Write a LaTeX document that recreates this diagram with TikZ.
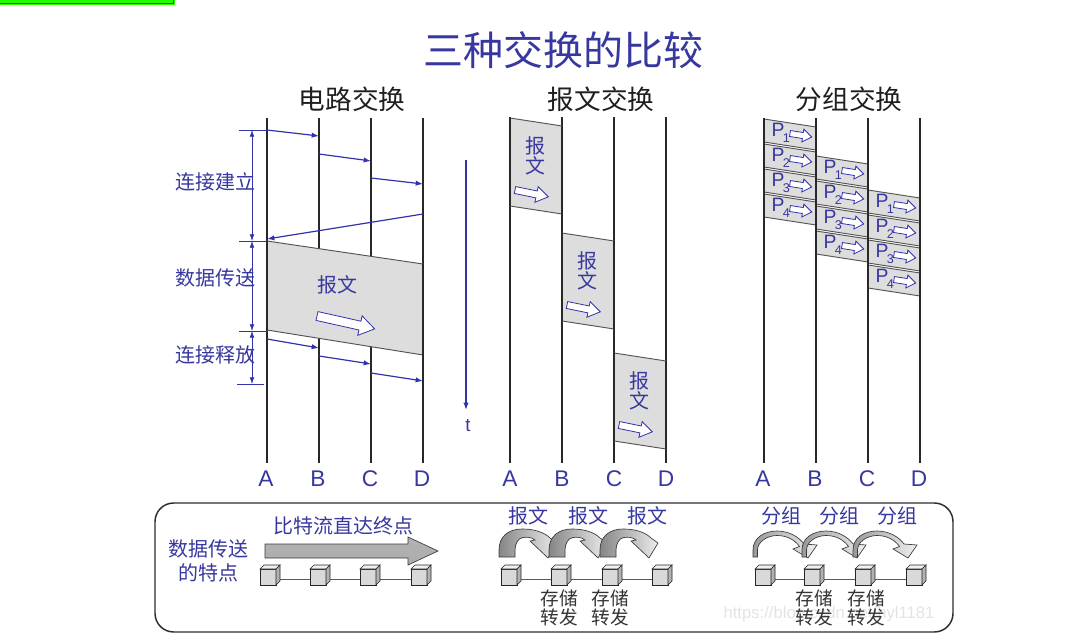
\documentclass[tikz,border=0pt]{standalone}
\usepackage{fontspec}
\setmainfont{Liberation Sans}
\newfontfamily\cjk{Noto Sans CJK SC}
\usetikzlibrary{arrows.meta,calc}
\definecolor{tblue}{RGB}{55,55,160}
\definecolor{lblue}{RGB}{50,50,170}
\definecolor{bandgray}{RGB}{221,221,221}
\definecolor{linegray}{RGB}{40,40,40}
\definecolor{brightgreen}{RGB}{40,255,0}
\definecolor{darkgreen}{RGB}{20,120,0}

\newcommand{\blockarrow}[7]{%
 \begin{scope}[shift={(#1,#2)},rotate=#3]
 \draw[barrow] (0,-#5)--(#4-#7,-#5)--(#4-#7,-#6)--(#4,0)--(#4-#7,#6)--(#4-#7,#5)--(0,#5)--cycle;
 \end{scope}}
\newcommand{\cube}[1]{%
 \filldraw[cubeline,fill=gray!30] (#1-8,569) rectangle (#1+8,585);
 \filldraw[cubeline,fill=gray!12] (#1-8,569)--(#1-4,565)--(#1+12,565)--(#1+8,569)--cycle;
 \filldraw[cubeline,fill=gray!60] (#1+8,569)--(#1+12,565)--(#1+12,581)--(#1+8,585)--cycle;}
% thick curved arrow (message), #1 = x of the starting cube
\newcommand{\msgarc}[1]{%
 \begin{scope}[shift={(#1,0)}]
 \shadedraw[left color=gray!95,right color=gray!15,draw=gray!45!black,line width=0.5pt]
  (-10,557) -- (-10,550) .. controls (-10,536) and (0,529) .. (13,529)
  .. controls (25,529) and (35,532) .. (41,538) -- (48,543) -- (39,558) -- (21,541)
  -- (26,540) .. controls (22,537) and (18,537) .. (14,537.5)
  .. controls (9,538) and (6,544) .. (6,550) -- (6,557) -- cycle;
 \end{scope}}
% thin curved arrow (packet), #1 = x of the starting cube
\newcommand{\pktarc}[1]{%
 \begin{scope}[shift={(#1,0)}]
 \shadedraw[left color=gray!80,right color=gray!12,draw=gray!45!black,line width=0.5pt]
  (-10,557) -- (-10,550) .. controls (-10,538) and (1,531) .. (14,531)
  .. controls (26,531) and (36,537) .. (41,544) -- (54,545) -- (45,558) -- (30,549)
  -- (36.5,546.5) .. controls (32,540) and (24,535.5) .. (14,535.5)
  .. controls (4,535.5) and (-5.5,542) .. (-5.5,550) -- (-5.5,557) -- cycle;
 \end{scope}}

\begin{document}
\begin{tikzpicture}[x=0.75pt,y=-0.75pt,
  every node/.style={inner sep=0pt,outer sep=0pt},
  titlet/.style={font=\cjk\fontsize{30}{36}\selectfont,text=tblue},
  subt/.style={font=\cjk\fontsize{20}{24}\selectfont,text=black!88},
  lab/.style={font=\cjk\fontsize{15}{17}\selectfont,text=tblue},
  darklab/.style={font=\cjk\fontsize{14}{14.5}\selectfont,text=black!80,align=center},
  letter/.style={font=\fontsize{17}{20}\selectfont,text=tblue},
  pl/.style={font=\fontsize{14.5}{16}\selectfont,text=tblue},
  psub/.style={font=\fontsize{9.5}{11}\selectfont,text=tblue},
  vline/.style={draw=linegray,line width=1.1pt},
  edge/.style={draw=linegray!80,line width=0.7pt},
  carrow/.style={draw=lblue,line width=0.9pt,-{Latex[length=5.5pt,width=4pt]}},
  dimline/.style={draw=lblue,line width=0.5pt},
  dimarrow/.style={draw=lblue,line width=0.5pt,{Latex[length=5pt,width=3.5pt]}-{Latex[length=5pt,width=3.5pt]}},
  barrow/.style={draw=lblue,fill=white,line width=0.6pt},
  cubeline/.style={draw=gray!30!black,line width=0.4pt},
]
\useasboundingbox (0,0) rectangle (1079,635);

% green bar top-left
\fill[brightgreen] (0,0) rectangle (175,5.5);
\draw[darkgreen,line width=0.7pt] (0,3) -- (173,3) -- (173,0);

% watermark
\node[font=\fontsize{12.5}{14}\selectfont,text=gray!22] (wm) at (829,614) {https://blog.csdn.net/hyl1181};

% titles
\node[titlet] (title) at (563,50) {三种交换的比较};
\node[subt] (s1) at (352,99) {电路交换};
\node[subt] (s2) at (601,99) {报文交换};
\node[subt] (s3) at (849,99) {分组交换};

% ================= circuit switching
\foreach \x/\n in {267/A,319/B,371/C,423/D}{
  \draw[vline] (\x,118) -- (\x,463);
  \node[letter] (c\n) at (\x-1,479) {\n};
}
\coordinate (ca1) at (267,130); \coordinate (cb1) at (319,136);
\coordinate (cb2) at (319,154); \coordinate (cc2) at (371,161);
\coordinate (cc3) at (371,178); \coordinate (cd3) at (423,184);
\coordinate (cd4) at (423,214); \coordinate (ca4) at (267,239);
\draw[carrow] (ca1) -- (cb1);
\draw[carrow] (cb2) -- (cc2);
\draw[carrow] (cc3) -- (cd3);
\draw[carrow] (cd4) -- (ca4);
% band
\fill[bandgray] (267,241) -- (423,264) -- (423,355) -- (267,330) -- cycle;
\draw[edge] (267,241) -- (423,264);
\draw[edge] (267,330) -- (423,355);
\draw[vline] (267,241) -- (267,330);
\draw[vline] (423,264) -- (423,355);
\node[lab] (bw) at (337,285) {报文};
\blockarrow{317}{316}{-12.6}{59}{4.5}{10}{15}
% release arrows
\coordinate (ca5) at (267,339); \coordinate (cb5) at (319,348);
\coordinate (cb6) at (319,356); \coordinate (cc6) at (371,364);
\coordinate (cc7) at (371,373); \coordinate (cd7) at (423,381);
\draw[carrow] (ca5) -- (cb5);
\draw[carrow] (cb6) -- (cc6);
\draw[carrow] (cc7) -- (cd7);
% dimension
\foreach \y in {130,241,331}{ \draw[dimline] (239,\y) -- (267,\y); }
\draw[dimline] (237,384) -- (264,384);
\coordinate (d1) at (252,130); \coordinate (d2) at (252,241);
\coordinate (d3) at (252,331); \coordinate (d4) at (252,384);
\draw[dimarrow] (d1) -- (d2);
\draw[dimarrow] (d2) -- (d3);
\draw[dimarrow] (d3) -- (d4);
\node[lab] (l1) at (215,182) {连接建立};
\node[lab] (l2) at (215,278) {数据传送};
\node[lab] (l3) at (215,355) {连接释放};
% time arrow
\coordinate (t0) at (466,160); \coordinate (t1) at (466,410);
\draw[carrow] (t0) -- (t1);
\node[font=\fontsize{14}{16}\selectfont,text=tblue] (t) at (468,426) {t};

% ================= message switching
\foreach \x/\n in {510/A,562/B,614/C,666/D}{
  \draw[vline] (\x,117) -- (\x,463);
  \node[letter] (m\n) at (\x,479) {\n};
}
\foreach \L/\y/\i in {510/118/1,562/233/2,614/353/3}{
  \fill[bandgray] (\L,\y) -- (\L+52,\y+8) -- (\L+52,\y+96) -- (\L,\y+88) -- cycle;
  \draw[edge] (\L,\y) -- (\L+52,\y+8);
  \draw[edge] (\L,\y+88) -- (\L+52,\y+96);
  \draw[vline] (\L,\y) -- (\L,\y+88);
  \draw[vline] (\L+52,\y+8) -- (\L+52,\y+96);
  \node[lab] (mb\i) at (\L+25,\y+28) {报};
  \node[lab] (mw\i) at (\L+25,\y+48) {文};
  \blockarrow{\L+5}{\y+72}{-11.6}{34}{3.5}{8}{12}
}

% ================= packet switching
\foreach \x/\n in {764/A,816/B,868/C,920/D}{
  \draw[vline] (\x,118) -- (\x,463);
  \node[letter] (p\n) at (\x-1,479) {\n};
}
\foreach \L/\s/\c in {764/119/1,816/156/2,868/190/3}{
  \foreach \k in {1,2,3,4}{
    \pgfmathsetmacro{\yy}{\s+(\k-1)*25}
    \fill[bandgray] (\L,\yy) -- (\L+52,\yy+8) -- (\L+52,\yy+31) -- (\L,\yy+23) -- cycle;
    \draw[edge] (\L,\yy) -- (\L+52,\yy+8);
    \draw[edge] (\L,\yy+23) -- (\L+52,\yy+31);
    \node[pl] (pp\c\k) at (\L+14,\yy+11) {P};
    \node[psub] (ps\c\k) at (\L+22.5,\yy+19) {\k};
    \blockarrow{\L+26}{\yy+14.5}{-9}{22}{3}{6.5}{9}
  }
}
\foreach \x in {764,816,868,920}{ \draw[vline] (\x,118) -- (\x,300); }

% ================= bottom box
\draw[draw=gray!35!black,line width=1.1pt,rounded corners=14pt] (155,503) rectangle (953,632);
\node[lab,align=center,font=\cjk\fontsize{15}{17.5}\selectfont] (feat) at (208,561) {数据传送\\的特点};
\node[lab] (bit) at (343,526) {比特流直达终点};
\shadedraw[top color=gray!60,bottom color=gray!65,draw=gray!45!black,line width=0.5pt]
  (265,544) -- (408,544) -- (408,537) -- (438,551) -- (408,565) -- (408,558) -- (265,558) -- cycle;
\draw[gray!70!black,line width=0.6pt] (268,579) -- (419,579);
\foreach \x in {268,318,368,419}{ \cube{\x} }

% message part
\draw[gray!70!black,line width=0.6pt] (509,579) -- (660,579);
\foreach \x in {509,559,610,660}{ \cube{\x} }
\foreach \x in {509,559,610}{ \msgarc{\x} }
\node[lab] (mt1) at (528,516) {报文};
\node[lab] (mt2) at (588,516) {报文};
\node[lab] (mt3) at (647,516) {报文};
\node[darklab] (sf1) at (559,608) {存储\\转发};
\node[darklab] (sf2) at (610,608) {存储\\转发};

% packet part
\draw[gray!70!black,line width=0.6pt] (763,579) -- (914,579);
\foreach \x in {763,812,863,914}{ \cube{\x} }
\foreach \x in {763,812,863}{ \pktarc{\x} }
\node[lab] (pt1) at (781,516) {分组};
\node[lab] (pt2) at (839,516) {分组};
\node[lab] (pt3) at (897,516) {分组};
\node[darklab] (sf3) at (814,608) {存储\\转发};
\node[darklab] (sf4) at (866,608) {存储\\转发};
\end{tikzpicture}
\end{document}
